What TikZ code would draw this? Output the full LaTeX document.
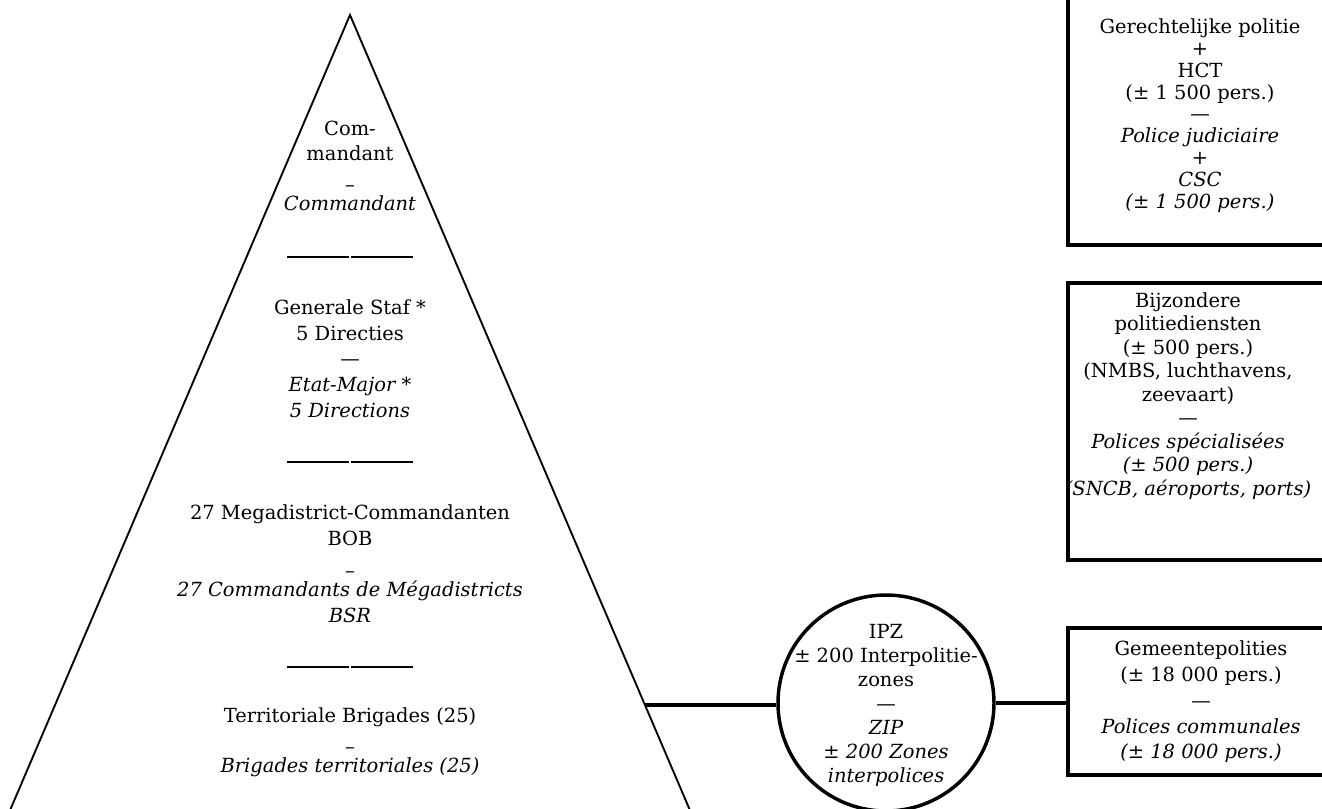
\documentclass[tikz,border=0pt]{standalone}
\usepackage{fontspec}
\setmainfont{DejaVu Serif}
\begin{document}
\begin{tikzpicture}[x=0.75pt,y=-0.75pt,
  txt/.style={align=center,inner sep=0pt,font=\fontsize{14.6}{#1}\selectfont},
  tri/.style={line width=1.4pt,line join=miter},
  sepline/.style={line width=1.1pt},
  thick box/.style={draw,line width=2.6pt,inner sep=0pt,minimum width=204pt},
  circ/.style={draw,circle,line width=2.6pt,inner sep=0pt,minimum size=162pt},
  conn/.style={line width=2.6pt}]
\useasboundingbox (0,0) rectangle (1322,808);
\clip (0,0) rectangle (1322,808);
% pyramid
\coordinate (apex) at (350,15);
\coordinate (bl) at (1.6,830);
\coordinate (br) at (698.4,830);
\draw[tri] (bl) -- (apex) -- (br);
\node[txt=18.75pt] (cmd) at (350,165.5) {Com-\\mandant\\\raisebox{-5pt}{–}\\\itshape Commandant};
\draw[sepline] (287,257) -- (349,257) (351,257) -- (413,257);
\node[txt=19.3pt] (staf) at (350,358.5) {Generale Staf *\\5 Directies\\—\\\itshape Etat-Major *\\\itshape 5 Directions};
\draw[sepline] (287,462) -- (349,462) (351,462) -- (413,462);
\node[txt=19.3pt] (mega) at (350,563.5) {27 Megadistrict-Commandanten\\BOB\\\raisebox{-5pt}{–}\\\itshape 27 Commandants de Mégadistricts\\\itshape BSR};
\draw[sepline] (287,667) -- (349,667) (351,667) -- (413,667);
\node[txt=18.75pt] (brig) at (350,742) {Territoriale Brigades (25)\\\raisebox{-5pt}{–}\\\itshape Brigades territoriales (25)};
% boxes
\node[thick box,minimum height=198.75pt] (pjbox) at (1204,112.5) {};
\node[thick box,minimum height=207.75pt] (bijbox) at (1204,421.5) {};
\node[thick box,minimum height=110.25pt] (gembox) at (1204,701.5) {};
\node[txt=16.4pt] (pj) at (1200,115.5) {Gerechtelijke politie\\+\\HCT\\(± 1 500 pers.)\\—\\\itshape Police judiciaire\\+\\\itshape CSC\\\itshape (± 1 500 pers.)};
\node[txt=17.6pt] (bij) at (1188,396) {Bijzondere\\politiediensten\\(± 500 pers.)\\(NMBS, luchthavens,\\zeevaart)\\—\\\itshape Polices spécialisées\\\itshape (± 500 pers.)\\\itshape (SNCB, aéroports, ports)};
\node[txt=19.3pt] (gem) at (1201,702) {Gemeentepolities\\(± 18 000 pers.)\\—\\\itshape Polices communales\\\itshape (± 18 000 pers.)};
% circle
\node[circ] (ipzc) at (886,703) {};
\node[txt=18pt] (ipz) at (886,705) {IPZ\\± 200 Interpolitie-\\zones\\—\\\itshape ZIP\\\itshape ± 200 Zones\\\itshape interpolices};
% connectors
\coordinate (tedge) at (645,705);
\draw[conn] (tedge) -- (tedge -| ipzc.west);
\draw[conn] (ipzc.east) -- (ipzc.east -| gembox.west);
\end{tikzpicture}
\end{document}
